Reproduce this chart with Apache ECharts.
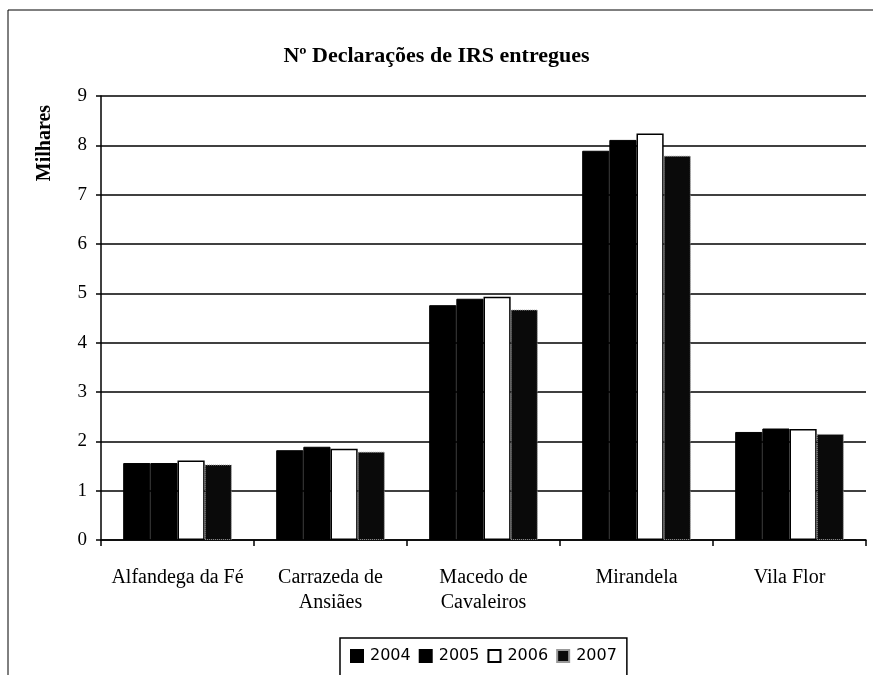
<!DOCTYPE html>
<html>
<head>
<meta charset="utf-8">
<script src="https://cdn.jsdelivr.net/npm/echarts@6/dist/echarts.min.js"></script>
<style>
  html, body { margin: 0; padding: 0; background: #fff; }
  #chart { width: 873px; height: 675px; }
</style>
</head>
<body>
<div id="chart"></div>
<script>
const municipios = ['Alfandega da Fé', 'Carrazeda de\nAnsiães', 'Macedo de\nCavaleiros', 'Mirandela', 'Vila Flor'];
const anos = ['2004', '2005', '2006', '2007'];
const v2004 = [1.56, 1.82, 4.76, 7.89, 2.19];
const v2005 = [1.56, 1.89, 4.89, 8.11, 2.26];
const v2006 = [1.61, 1.85, 4.93, 8.24, 2.25];
const v2007 = [1.53, 1.79, 4.67, 7.79, 2.15];
const yTicks = [0, 1, 2, 3, 4, 5, 6, 7, 8, 9];

const serif = '"Liberation Serif", "DejaVu Serif", serif';

const styles = [
  { color: '#000', borderColor: '#000', borderWidth: 1 },
  { color: '#000', borderColor: '#000', borderWidth: 1 },
  { color: '#fff', borderColor: '#000', borderWidth: 1.5 },
  { color: '#0a0a0a', borderColor: '#999', borderWidth: 1, borderType: 'dotted' }
];
const values = [v2004, v2005, v2006, v2007];

const chart = echarts.init(document.getElementById('chart'));
chart.setOption({
  animation: false,
  backgroundColor: '#fff',
  title: {
    text: 'Nº Declarações de IRS entregues',
    left: 'center',
    top: 40,
    textStyle: { fontFamily: serif, fontSize: 22, fontWeight: 'bold', color: '#000' }
  },
  graphic: [
    { type: 'rect', shape: { x: 8, y: 10, width: 900, height: 700 },
      style: { fill: 'none', stroke: '#000', lineWidth: 1 }, silent: true },
    { type: 'text', x: 45, y: 143, rotation: Math.PI / 2,
      style: { text: 'Milhares', font: 'bold 20px ' + serif, fill: '#000',
               textAlign: 'center', textVerticalAlign: 'middle' } }
  ],
  legend: {
    data: anos,
    left: 340,
    top: 638,
    itemWidth: 12,
    itemHeight: 12,
    itemGap: 8,
    padding: [10, 10, 20, 10],
    borderColor: '#000',
    borderWidth: 1.5,
    icon: 'rect',
    textStyle: { fontFamily: '"DejaVu Sans", sans-serif', fontSize: 16, color: '#000', padding: [0, 0, 0, 2] }
  },
  grid: { left: 101, right: 7, top: 96, bottom: 135 },
  xAxis: {
    type: 'category',
    data: municipios,
    axisLine: { lineStyle: { color: '#000', width: 1.5 } },
    axisTick: { show: true, interval: 0, length: 6, lineStyle: { color: '#000', width: 1.5 } },
    axisLabel: { interval: 0, fontFamily: serif, fontSize: 20, color: '#000', margin: 25, lineHeight: 25 }
  },
  yAxis: {
    type: 'value',
    min: yTicks[0],
    max: yTicks[yTicks.length - 1],
    interval: 1,
    axisLine: { show: true, lineStyle: { color: '#000', width: 1.5 } },
    axisTick: { show: true, length: 5, lineStyle: { color: '#000', width: 1.5 } },
    axisLabel: { fontFamily: serif, fontSize: 19, color: '#000', margin: 14 },
    splitLine: { lineStyle: { color: '#000', width: 1.5 } }
  },
  series: anos.map((a, i) => ({
    name: a,
    type: 'bar',
    data: values[i],
    barGap: '0%',
    barCategoryGap: '29%',
    itemStyle: styles[i]
  }))
});
</script>
</body>
</html>
